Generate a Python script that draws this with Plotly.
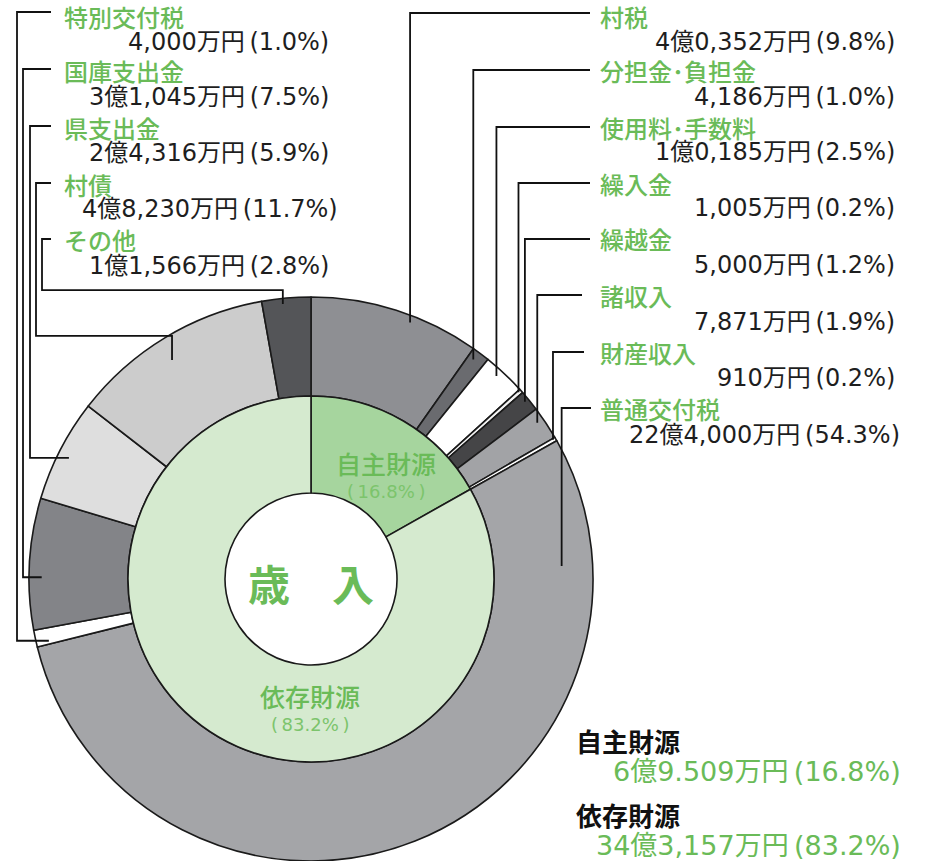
import math
import plotly.graph_objects as go

W, H = 934, 861

# ---------------- data ----------------
outer_labels = ["村税", "分担金･負担金", "使用料･手数料", "繰入金", "繰越金", "諸収入", "財産収入",
                "普通交付税", "特別交付税", "国庫支出金", "県支出金", "村債", "その他"]
outer_values = [40352, 4186, 10185, 1005, 5000, 7871, 910,
                224000, 4000, 31045, 24316, 48230, 11566]  # 万円
outer_amounts = ["4億0,352万円", "4,186万円", "1億0,185万円", "1,005万円", "5,000万円", "7,871万円", "910万円",
                 "22億4,000万円", "4,000万円", "3億1,045万円", "2億4,316万円", "4億8,230万円", "1億1,566万円"]
outer_pct = [9.8, 1.0, 2.5, 0.2, 1.2, 1.9, 0.2, 54.3, 1.0, 7.5, 5.9, 11.7, 2.8]

inner_labels = ["自主財源", "依存財源"]
inner_values = [69509, 343157]  # 万円
inner_amounts = ["6億9.509万円", "34億3,157万円"]
inner_pct = [16.8, 83.2]

center_title = "歳　入"

# ---------------- styles ----------------
outer_colors = ["#8e8f93", "#6a6b6f", "#ffffff", "#f4f4f4", "#454547", "#a2a3a6", "#ffffff",
                "#a4a5a8", "#ffffff", "#838488", "#dedede", "#cccccc", "#545558"]
inner_colors = ["#a6d59e", "#d5eacf"]
GREEN = "#6abb58"
LGREEN = "#7cc46c"
DARK = "#1e1e1e"
JP = "Noto Sans CJK JP"
NUM = "DejaVu Sans, Noto Sans CJK JP"

CX, CY = 311, 579
R_OUT, R_MID, R_HOLE = 282, 183, 86


def px(x):
    return x / W


def py(y):
    return 1 - y / H


fig = go.Figure()

fig.add_trace(go.Pie(
    labels=outer_labels, values=outer_values, sort=False, direction="clockwise", rotation=0,
    hole=R_MID / R_OUT, textinfo="none", hoverinfo="label+value",
    marker=dict(colors=outer_colors, line=dict(color="#1a1a1a", width=1.6)),
    domain=dict(x=[px(CX - R_OUT), px(CX + R_OUT)], y=[py(CY + R_OUT), py(CY - R_OUT)]),
    showlegend=False,
))
fig.add_trace(go.Pie(
    labels=inner_labels, values=inner_values, sort=False, direction="clockwise", rotation=0,
    hole=R_HOLE / R_MID, textinfo="none", hoverinfo="label+value",
    marker=dict(colors=inner_colors, line=dict(color="#1a1a1a", width=1.6)),
    domain=dict(x=[px(CX - R_MID), px(CX + R_MID)], y=[py(CY + R_MID), py(CY - R_MID)]),
    showlegend=False,
))

# ---------------- labels + leader lines ----------------
right_idx = [0, 1, 2, 3, 4, 5, 6, 7]
right_name_y = [17, 70, 127, 183, 239, 295, 352, 408]
right_val_y = [42, 97, 152, 208, 265, 322, 378, 435]
right_line_end = [590, 590, 590, 590, 590, 582, 584, 591]
right_val_x = [896, 896, 896, 896, 896, 896, 896, 901]

left_idx = [8, 9, 10, 11, 12]
left_name_y = [17, 70, 127, 184, 240]
left_val_y = [42, 97, 153, 209, 266]
left_vx = [17, 23, 30, 36, 42]
left_val_x = [330, 330, 330, 339, 330]
left_knee = [0, 0, 0, 24, 14]

# position of the leader end inside each slice (fraction of slice, fraction of radius)
leader_frac = [0.6, 0.35, 0.4, 0.3, 0.4, 0.35, 0.3, 0.135, 0.2, 0.4, 0.47, 0.47, 0.42]
leader_rad = [0.975, 0.968, 0.975, 0.99, 0.985, 0.975, 0.99, 0.89, 0.955, 0.955, 0.96, 0.92, 0.98]

total = sum(outer_values)
ends = []
cum = 0
for i, v in enumerate(outer_values):
    a0 = cum / total * 360
    a1 = (cum + v) / total * 360
    cum += v
    ang = math.radians(a0 + (a1 - a0) * leader_frac[i])
    r = R_OUT * leader_rad[i]
    ends.append((CX + r * math.sin(ang), CY - r * math.cos(ang)))

shapes = []
ann = []


def path(points):
    s = "M " + " L ".join(f"{px(x):.5f},{py(y):.5f}" for x, y in points)
    return dict(type="path", path=s, xref="paper", yref="paper",
                line=dict(color="#111111", width=1.8))


def txt(x, y, text, size, color, anchor, family=JP, weight="normal"):
    ann.append(dict(x=px(x), y=py(y), xref="paper", yref="paper", text=text, showarrow=False,
                    xanchor=anchor, yanchor="middle", borderpad=0,
                    font=dict(family=family, size=size, color=color, weight=weight)))


def amount_text(amount, pct):
    return f"{amount}\u2009({pct:.1f}%)"


for k, i in enumerate(right_idx):
    ex, ey = ends[i]
    ly = 13 if k == 0 else right_name_y[k]
    shapes.append(path([(right_line_end[k], ly), (ex, ly), (ex, ey)]))
    txt(599, right_name_y[k], outer_labels[i], 24, GREEN, "left", JP, 500)
    txt(right_val_x[k], right_val_y[k], amount_text(outer_amounts[i], outer_pct[i]), 24, DARK, "right", NUM)

for k, i in enumerate(left_idx):
    ex, ey = ends[i]
    ly = 12 if k == 0 else left_name_y[k] - 1
    knee = ey - left_knee[k]
    pts = [(51, ly), (left_vx[k], ly), (left_vx[k], knee), (ex, knee)]
    if left_knee[k]:
        pts.append((ex, ey))
    shapes.append(path(pts))
    txt(63, left_name_y[k], outer_labels[i], 24, GREEN, "left", JP, 500)
    txt(left_val_x[k], left_val_y[k], amount_text(outer_amounts[i], outer_pct[i]), 24, DARK, "right", NUM)

# inner ring labels
txt(386, 463, inner_labels[0], 25, GREEN, "center", JP, 500)
txt(386, 491, f"(\u2009{inner_pct[0]:.1f}%\u2009)", 18, LGREEN, "center", NUM)
txt(310, 696, inner_labels[1], 25, GREEN, "center", JP, 500)
txt(310, 724, f"(\u2009{inner_pct[1]:.1f}%\u2009)", 18, LGREEN, "center", NUM)

# centre title
txt(CX, 582, center_title, 42, GREEN, "center", JP, "bold")

# summary at bottom right
txt(575, 740, inner_labels[0], 26, "#111111", "left", JP, "bold")
txt(902, 771, amount_text(inner_amounts[0], inner_pct[0]), 27, GREEN, "right", NUM)
txt(575, 814, inner_labels[1], 26, "#111111", "left", JP, "bold")
txt(902, 845, amount_text(inner_amounts[1], inner_pct[1]), 27, GREEN, "right", NUM)

fig.update_layout(
    width=W, height=H, margin=dict(l=0, r=0, t=0, b=0),
    paper_bgcolor="white", plot_bgcolor="white",
    shapes=shapes, annotations=ann,
)

fig.write_html("out.html", config={"displayModeBar": False},
               post_script="document.body.style.margin='0';document.body.style.padding='0';")
